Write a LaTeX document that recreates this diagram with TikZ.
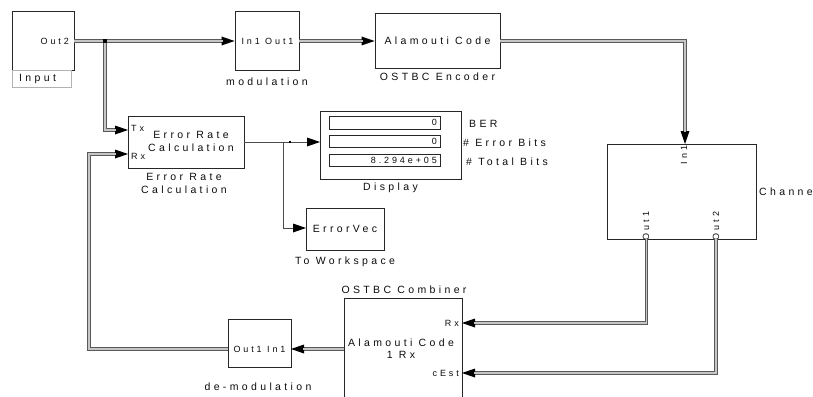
\documentclass[tikz,border=0pt]{standalone}
\usepackage{fontspec}
\setmainfont{Liberation Sans}
\newfontfamily\wide[LetterSpace=32]{Liberation Sans}
\usetikzlibrary{arrows.meta,calc}
\tikzset{
  blk/.style={draw=black!85, line width=0.9pt, fill=white, inner sep=0pt, rectangle},
  lab/.style={font=\wide\fontsize{10.5}{12.5}\selectfont, text=black!95, inner sep=0pt, align=center},
  prt/.style={font=\wide\fontsize{9}{10.5}\selectfont, text=black!95, inner sep=0pt},
  tip/.tip={Triangle[length=13pt,width=9pt,line width=0pt,color=black,fill=black]},
  vec/.style={line width=3.4pt, draw=black!65, postaction={draw=gray!45, line width=1.3pt, arrows=-}},
  veca/.style={line width=3.4pt, draw=black!65, -tip, postaction={draw=gray!45, line width=1.3pt, arrows=-, shorten >=12pt}},
  sca/.style={line width=0.9pt, draw=black!70},
  scaa/.style={sca, -tip},
  dot/.style={fill=black, inner sep=0pt, minimum size=4pt, rectangle},
}
\begin{document}
\begin{tikzpicture}[x=1pt,y=-1pt]
\useasboundingbox (0,0) rectangle (813,396);
% blocks
\node[blk, minimum width=62pt, minimum height=59pt] (inp) at (43,40.5) {};
\node[draw=gray!60, line width=0.7pt, minimum width=59pt, minimum height=17pt, inner sep=0pt] (inplbl) at (41.5,78.5) {};
\node[lab, anchor=west] (inptxt) at (19,79) {Input};
\node[prt, anchor=east] (out2) at (69,41) {Out2};

\node[blk, minimum width=64pt, minimum height=59pt] (mod) at (267,40.5) {};
\node[prt] (modtxt) at (267.5,41) {In1 Out1};
\node[lab] (modlbl) at (267,82) {modulation};

\node[blk, minimum width=125pt, minimum height=55pt] (enc) at (437.5,40.5) {};
\node[lab] (enctxt) at (437.5,40.5) {Alamouti Code};
\node[lab] (enclbl) at (437.5,77) {OSTBC Encoder};

\node[blk, minimum width=116pt, minimum height=52pt] (erc) at (186,142) {};
\node[prt, anchor=west] (tx) at (131,128) {Tx};
\node[prt, anchor=west] (rx) at (131,156) {Rx};
\node[lab] (erctxt) at (191,141.5) {Error Rate\\Calculation};
\node[lab] (erclbl) at (184,183.5) {Error Rate\\Calculation};

\node[blk, minimum width=141pt, minimum height=68pt] (disp) at (390.5,145) {};
\node[blk, line width=0.8pt, minimum width=111pt, minimum height=12.5pt] (f1) at (385,123) {};
\node[blk, line width=0.8pt, minimum width=111pt, minimum height=12.5pt] (f2) at (385,141.5) {};
\node[blk, line width=0.8pt, minimum width=111pt, minimum height=12.5pt] (f3) at (385,160.5) {};
\node[prt, anchor=east] (v1) at (437,122.5) {0};
\node[prt, anchor=east] (v2) at (437,141) {0};
\node[prt, anchor=east] (v3) at (437,160) {8.294e+05};
\node[lab, anchor=west] (ber) at (469,124) {BER};
\node[lab, anchor=west] (eb) at (463,143) {\# Error Bits};
\node[lab, anchor=west] (tb) at (466,162) {\# Total Bits};
\node[lab] (displbl) at (390.5,188) {Display};

\node[blk, minimum width=78pt, minimum height=42pt] (tows) at (345,229) {};
\node[lab] (towstxt) at (345,229) {ErrorVec};
\node[lab] (towslbl) at (345,262) {To Workspace};

\node[blk, minimum width=149pt, minimum height=95pt] (chan) at (681.5,191.5) {};
\node[prt, rotate=90] (in1) at (684,155) {In1};
\node[prt, rotate=90] (o1) at (646,226) {Out1};
\node[prt, rotate=90] (o2) at (716,226) {Out2};
\node[lab, anchor=west] (chanlbl) at (759,192) {Channe};

\node[blk, minimum width=118pt, minimum height=102pt] (comb) at (403,349) {};
\node[prt, anchor=east] (crx) at (459,323) {Rx};
\node[prt, anchor=east] (cest) at (459,373) {cEst};
\node[lab] (combtxt) at (401,348.5) {Alamouti Code\\1 Rx};
\node[lab] (comblbl) at (404,290) {OSTBC Combiner};

\node[blk, minimum width=63pt, minimum height=48pt] (demod) at (259.5,343) {};
\node[prt] (demodtxt) at (259.5,349) {Out1 In1};
\node[lab] (demodlbl) at (258,387) {de-modulation};

% coordinates
\coordinate (j1) at (105,41);
\coordinate (erctx) at (128,130);
\coordinate (ercrx) at (128,154);
\coordinate (chin) at (685,144);
\coordinate (cho1) at (646.5,239);
\coordinate (cho2) at (716,239);
\coordinate (cbrx) at (462,323);
\coordinate (cbce) at (462,373);
\coordinate (dmin) at (291,349);
\coordinate (dmout) at (228,349);
\coordinate (ercout) at (244,142);
\coordinate (dispin) at (320,142);
\coordinate (towsin) at (306,228);

% connectors
\draw[veca] (inp.east |- j1) -- (mod.west |- j1);
\draw[veca] (j1) -- (j1 |- erctx) -- (erctx);
\draw[veca] (mod.east |- j1) -- (enc.west |- j1);
\draw[veca] (enc.east |- j1) -- (chin |- j1) -- (chin);
\draw[veca] (cho1) -- (cho1 |- cbrx) -- (cbrx);
\draw[veca] (cho2) -- (cho2 |- cbce) -- (cbce);
\draw[veca] (comb.west) -- (dmin);
\draw[veca] (dmout) -- (89,349) -- (89,154) -- (ercrx);
\draw[scaa] (ercout) -- (dispin);
\draw[scaa] (283,142) -- (283,228) -- (towsin);
\node[dot] (jd1) at (j1) {};
\node[dot, minimum size=2.5pt] (jd2) at (290,142) {};
\end{tikzpicture}
\end{document}
